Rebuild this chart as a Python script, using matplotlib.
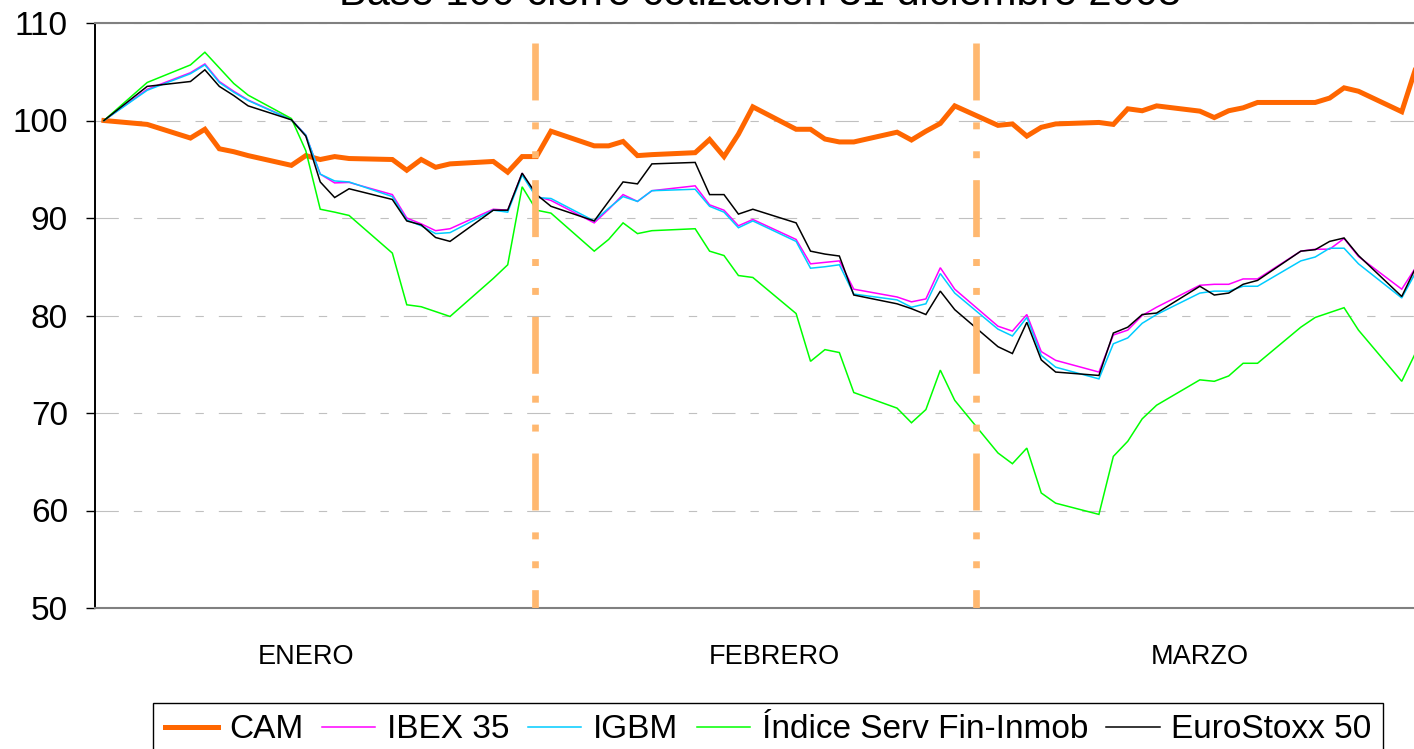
import numpy as np
import pandas as pd
import matplotlib
matplotlib.use("Agg")
from matplotlib import pyplot as plt

plt.rcParams['font.family'] = ['Liberation Sans', 'DejaVu Sans']
plt.rcParams['lines.scale_dashes'] = False

titulo = "Base 100 cierre cotización 31 diciembre 2008"

# sesiones (primer punto = base 100)
fechas = ['2008-12-30', '2009-01-02',
          '2009-01-05', '2009-01-06', '2009-01-07', '2009-01-08', '2009-01-09',
          '2009-01-12', '2009-01-13', '2009-01-14', '2009-01-15', '2009-01-16',
          '2009-01-19', '2009-01-20', '2009-01-21', '2009-01-22', '2009-01-23',
          '2009-01-26', '2009-01-27', '2009-01-28', '2009-01-29', '2009-01-30',
          '2009-02-02', '2009-02-03', '2009-02-04', '2009-02-05', '2009-02-06',
          '2009-02-09', '2009-02-10', '2009-02-11', '2009-02-12', '2009-02-13',
          '2009-02-16', '2009-02-17', '2009-02-18', '2009-02-19', '2009-02-20',
          '2009-02-23', '2009-02-24', '2009-02-25', '2009-02-26', '2009-02-27',
          '2009-03-02', '2009-03-03', '2009-03-04', '2009-03-05', '2009-03-06',
          '2009-03-09', '2009-03-10', '2009-03-11', '2009-03-12', '2009-03-13',
          '2009-03-16', '2009-03-17', '2009-03-18', '2009-03-19', '2009-03-20',
          '2009-03-23', '2009-03-24', '2009-03-25', '2009-03-26', '2009-03-27',
          '2009-03-30', '2009-03-31']

cam = [100, 99.6,
       98.2, 99.1, 97.1, 96.8, 96.4,
       95.4, 96.4, 96.0, 96.3, 96.1,
       96.0, 94.9, 96.0, 95.2, 95.55,
       95.8, 94.7, 96.3, 96.3, 98.9,
       97.4, 97.4, 97.85, 96.4, 96.5,
       96.7, 98.05, 96.3, 98.6, 101.4,
       99.1, 99.1, 98.1, 97.8, 97.8,
       98.8, 98.0, 98.9, 99.7, 101.5,
       99.5, 99.65, 98.4, 99.3, 99.65,
       99.8, 99.6, 101.2, 101.0, 101.5,
       100.96, 100.3, 101.0, 101.3, 101.85,
       101.85, 101.85, 102.3, 103.35, 103.0,
       100.9, 105.5]

ibex = [100, 103.2,
        104.9, 105.8, 104.0, 103.0, 102.1,
        100.1, 98.5, 94.5, 93.6, 93.65,
        92.4, 90.0, 89.4, 88.7, 88.9,
        90.9, 90.8, 94.6, 92.2, 91.8,
        89.5, 90.9, 92.4, 91.7, 92.8,
        93.3, 91.35, 90.8, 89.2, 89.85,
        87.8, 85.3, 85.45, 85.6, 82.7,
        81.9, 81.4, 81.7, 84.9, 82.7,
        78.9, 78.4, 80.1, 76.3, 75.4,
        74.2, 78.0, 78.5, 80.0, 80.85,
        83.1, 83.2, 83.2, 83.75, 83.75,
        86.6, 86.8, 86.8, 87.9, 86.05,
        82.7, 85.0]

igbm = [100, 103.1,
        104.8, 105.7, 103.9, 102.9, 102.05,
        100.07, 98.5, 94.5, 93.8, 93.7,
        92.2, 89.8, 89.2, 88.4, 88.5,
        90.8, 90.6, 94.4, 92.1, 92.0,
        89.7, 91.0, 92.2, 91.7, 92.8,
        92.95, 91.2, 90.6, 89.0, 89.7,
        87.6, 84.85, 85.0, 85.2, 82.2,
        81.6, 80.85, 81.2, 84.3, 82.3,
        78.6, 77.9, 79.8, 75.9, 74.7,
        73.5, 77.1, 77.7, 79.2, 80.1,
        82.3, 82.5, 82.5, 83.0, 83.0,
        85.6, 86.0, 86.9, 86.9, 85.3,
        81.8, 84.5]

serv_fin = [100, 103.9,
            105.7, 107.0, 105.4, 103.8, 102.6,
            100.2, 96.9, 90.9, 90.6, 90.26,
            86.4, 81.1, 80.9, 80.4, 79.9,
            83.8, 85.2, 93.2, 90.8, 90.5,
            86.6, 87.8, 89.5, 88.4, 88.7,
            88.9, 86.6, 86.15, 84.1, 83.9,
            80.2, 75.3, 76.5, 76.2, 72.1,
            70.5, 69.0, 70.35, 74.4, 71.3,
            65.9, 64.8, 66.4, 61.8, 60.75,
            59.6, 65.55, 67.1, 69.4, 70.8,
            73.4, 73.25, 73.8, 75.1, 75.1,
            78.8, 79.8, 80.3, 80.8, 78.5,
            73.25, 76.3]

eurostoxx = [100, 103.5,
             104.0, 105.2, 103.5, 102.56, 101.5,
             100.07, 98.4, 93.7, 92.1, 93.0,
             91.9, 89.7, 89.3, 88.0, 87.6,
             90.8, 90.8, 94.6, 92.4, 91.2,
             89.7, 91.7, 93.7, 93.5, 95.55,
             95.7, 92.4, 92.4, 90.4, 90.9,
             89.5, 86.6, 86.3, 86.1, 82.1,
             81.2, 80.7, 80.1, 82.5, 80.6,
             76.8, 76.1, 79.3, 75.45, 74.2,
             73.85, 78.2, 78.8, 80.1, 80.25,
             83.0, 82.1, 82.3, 83.2, 83.6,
             86.6, 86.75, 87.6, 87.95, 86.15,
             81.95, 85.0]

nombres = ["CAM", "IBEX 35", "IGBM", "Índice Serv Fin-Inmob", "EuroStoxx 50"]
colores = ["#FF6600", "#FF00FF", "#00CCFF", "#00FF00", "#000000"]
grosores = [3.6, 1.1, 1.1, 1.1, 1.1]

meses = ["ENERO", "FEBRERO", "MARZO"]
pos_meses = [14, 46.5, 76]        # dias desde el primer punto
separadores = [29.9, 60.5]

dias = (pd.to_datetime(fechas) - pd.to_datetime(fechas[0])).days.values

fig = plt.figure(figsize=(14.14, 7.49), dpi=100)
ax = fig.add_axes([95/1414, 1-608/749, 1319/1414, 585/749])

for nombre, valores, color, lw in zip(nombres, [cam, ibex, igbm, serv_fin, eurostoxx], colores, grosores):
    ax.plot(dias, valores, color=color, lw=lw, label=nombre, solid_joinstyle='miter')

for s in separadores:
    ax.plot([s, s], [107.9, 50], color='#FFB870', lw=4.8,
            linestyle=(0, (41, 15.8, 5, 15.8, 5, 15.8)), zorder=5)

ax.set_xlim(-0.62, 90.85)
ax.set_ylim(50, 110)
ax.set_yticks(np.arange(50, 111, 10))
ax.set_xticks([])
ax.yaxis.grid(True, color='#C0C0C0', lw=0.8, linestyle=(0, (16.8, 10.8, 6, 10.8)))
ax.set_axisbelow(True)
ax.tick_params(axis='y', direction='out', length=6.5, width=1, pad=13, labelsize=24)

ax.spines['left'].set_color('black')
ax.spines['left'].set_linewidth(1.4)
ax.spines['top'].set_color('#808080')
ax.spines['top'].set_linewidth(1.5)
ax.spines['bottom'].set_color('#808080')
ax.spines['bottom'].set_linewidth(1.5)
ax.spines['right'].set_visible(False)

for mes, p in zip(meses, pos_meses):
    ax.text(p, 44.97, mes, ha='center', va='center', fontsize=19.5, clip_on=False)

fig.text(760/1414, 1-5/749, titulo, ha='center', va='baseline', fontsize=30)

fig.legend(loc='upper center', bbox_to_anchor=(768/1414, 1-686/749), ncol=5,
           fontsize=24, frameon=True, fancybox=False, edgecolor='black', framealpha=1,
           handlelength=1.6, handletextpad=0.35, columnspacing=0.55, borderpad=0.35)

plt.savefig("out.png", dpi=100)
